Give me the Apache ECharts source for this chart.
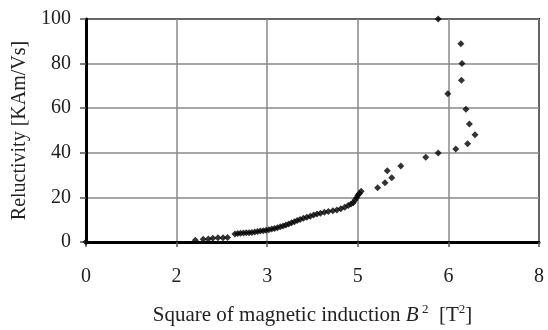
<!DOCTYPE html>
<html>
<head>
<meta charset="utf-8">
<script src="https://cdn.jsdelivr.net/npm/echarts@6/dist/echarts.min.js"></script>
<style>
  html, body { margin: 0; padding: 0; background: #fff; }
  #chart { width: 548px; height: 330px; }
</style>
</head>
<body>
<div id="chart"></div>
<script>
// measured points, B^2 [T^2] vs reluctivity [kAm/Vs]
var b2 = [0,
  1.93, 2.07, 2.16, 2.24, 2.33, 2.42, 2.5,
  2.63, 2.68, 2.73, 2.78, 2.83, 2.88, 2.93, 2.98, 3.03, 3.08, 3.13, 3.18, 3.23, 3.28,
  3.33, 3.38, 3.43, 3.48, 3.53, 3.58, 3.63, 3.68, 3.73, 3.78, 3.84, 3.90, 3.96, 4.02,
  4.08, 4.14, 4.21, 4.28, 4.36, 4.43, 4.50, 4.57, 4.63, 4.68, 4.72, 4.75, 4.78, 4.80,
  4.83, 4.86,
  5.15, 5.28, 5.40, 5.32, 5.56, 6.00, 6.22, 6.53, 6.74, 6.87, 6.77, 6.71, 6.39, 6.63,
  6.64, 6.62, 6.22];
var reluct = [0,
  0.8, 1.2, 1.4, 1.7, 1.9, 1.9, 2.0,
  3.6, 3.8, 3.9, 4.0, 4.1, 4.2, 4.3, 4.5, 4.7, 4.9, 5.1, 5.3, 5.5, 5.8,
  6.1, 6.4, 6.8, 7.2, 7.6, 8.1, 8.6, 9.1, 9.6, 10.1, 10.6, 11.1, 11.6, 12.1,
  12.6, 12.9, 13.3, 13.7, 14.0, 14.3, 14.9, 15.6, 16.4, 17.0, 17.6, 18.8, 19.8, 21.0,
  21.8, 22.8,
  24.3, 26.6, 28.8, 32.0, 34.1, 38.0, 39.9, 41.7, 44.1, 48.1, 52.9, 59.5, 66.5, 72.5,
  80.1, 88.9, 100];

var chart = echarts.init(document.getElementById('chart'));

var pts = [];
for (var i = 0; i < b2.length; i++) pts.push([b2[i], reluct[i]]);

var font = 'Liberation Serif, Times New Roman, serif';

chart.setOption({
  animation: false,
  grid: {
    left: 86, right: 9, top: 19, bottom: 88,
    outerBoundsMode: 'none',
    show: true, borderColor: '#000', borderWidth: 2
  },
  xAxis: {
    type: 'value', min: 0, max: 8, interval: 1.6,
    axisLine: { onZero: false, lineStyle: { color: '#000', width: 3 } },
    axisTick: { show: true, length: 5, lineStyle: { color: '#555', width: 1.5 } },
    splitLine: { lineStyle: { color: '#888', width: 1.5 } },
    axisLabel: {
      margin: 25, color: '#222', fontFamily: font, fontSize: 20,
      formatter: function (v) { return String(Math.round(v)); }
    },
    name: '{t|Square of magnetic induction }{i|B}{s| 2}{t|  [T}{s|2}{t|]}',
    nameLocation: 'middle', nameGap: 61,
    nameTextStyle: {
      rich: {
        t: { fontFamily: font, fontSize: 21, color: '#222' },
        i: { fontFamily: font, fontSize: 21, fontStyle: 'italic', color: '#222' },
        s: { fontFamily: font, fontSize: 13, color: '#222', padding: [0, 0, 12, 0] }
      }
    }
  },
  yAxis: {
    type: 'value', min: 0, max: 100, interval: 20,
    axisLine: { show: true, lineStyle: { color: '#000', width: 3 } },
    axisTick: { show: true, length: 6, lineStyle: { color: '#555', width: 1.5 } },
    splitLine: { lineStyle: { color: '#888', width: 1.5 } },
    axisLabel: { margin: 15, color: '#222', fontFamily: font, fontSize: 20 },
    name: 'Reluctivity [KAm/Vs]',
    nameLocation: 'middle', nameGap: 54, nameRotate: 90,
    nameTextStyle: { fontFamily: font, fontSize: 20, color: '#222' }
  },
  series: [{
    type: 'scatter',
    data: pts,
    symbol: 'diamond',
    symbolSize: 7,
    clip: false,
    itemStyle: { color: '#000' }
  }]
});
</script>
</body>
</html>
